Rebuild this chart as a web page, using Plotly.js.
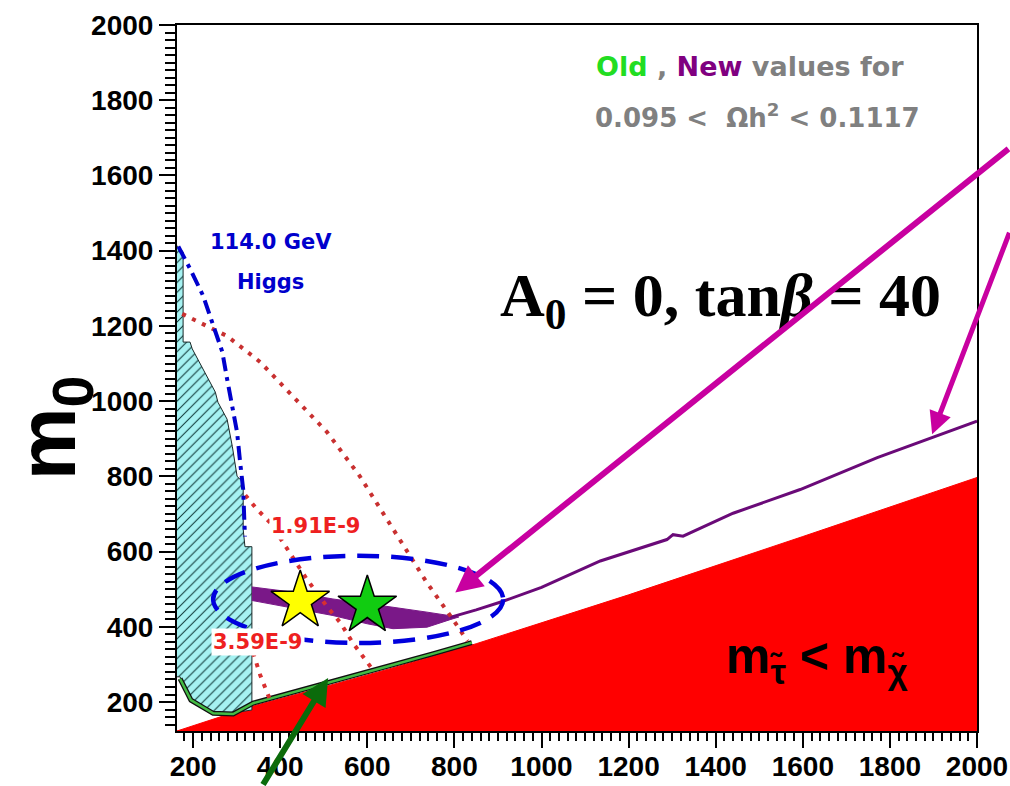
<!DOCTYPE html>
<html>
<head>
<meta charset="utf-8">
<script src="https://cdn.plot.ly/plotly-3.0.1.min.js"></script>
<style>html,body{margin:0;padding:0;background:#fff;}#chart{width:1010px;height:786px;}</style>
</head>
<body>
<div id="chart"></div>
<script>
// ---- data (m1/2, m0) ----
const xTicks = [200,400,600,800,1000,1200,1400,1600,1800,2000];
const yTicks = [200,400,600,800,1000,1200,1400,1600,1800,2000];
const minorStep = 20;

// stau-LSP excluded region (red)
const redX = [163,340,500,650,850,1200,1600,2000,2000,163];
const redY = [123,190,240,288,355,485,640,797,123,123];

// hatched cyan region
const cyanX = [163,177,177,193,198,223,251,257,278,290,301,315,315,319,335,335,292,246,193,170,163];
const cyanY = [1413,1397,1157,1157,1139,1085,1024,997,952,880,800,784,659,613,613,179,171,173,205,267,267];

// new relic-density band (purple)
const bandX = [335,430,521,600,659,737,790,810,790,737,659,600,521,430,335];
const bandY = [506,492,474,462,452,439,430,426,419,399,395,408,430,450,470];
const newLineX = [790,850,912,1000,1135,1288,1302,1325,1440,1594,1771,2000];
const newLineY = [425,445,468,505,575,632,645,641,702,765,850,947];

// old relic-density strip (green)
const oldX = [170,195,246,292,338,450,550,650,750,840];
const oldY = [262,205,170,168,197,232,264,296,328,358];

// g-2 dotted contours
const g2aX = [175,278,354,430,508,583,659,737,797,830];
const g2aY = [1232,1173,1104,1013,917,800,659,517,419,362];
const g2bX = [320,347,377,407,430,462,508,538,567,590,613];
const g2bY = [750,712,677,624,579,525,453,411,357,320,285];
const g2cX = [338,354,372,381];
const g2cY = [331,272,219,197];

// Higgs 114 GeV contour
const higgsX = [166,193,223,246,267,278,290,301,308,315,319];
const higgsY = [1411,1352,1280,1200,1131,1059,987,917,837,765,640];

// benchmark stars
const starX = [446,600];
const starY = [469,456];
const starColors = ['#ffff00','#11cc11'];

const tickFont = {family:'Liberation Sans, Arial, sans-serif', size:28, color:'#000', weight:'bold'};
const sans = 'DejaVu Sans, Liberation Sans, Arial, sans-serif';
const xRange = [163,2000], yRange = [123,2000];
const plotW = 800, plotH = 706;

// minor axis tick positions (axis decoration, every minorStep units)
const minorXs = [], minorYs = [];
for (let v = Math.ceil(xRange[0]/minorStep)*minorStep; v <= xRange[1]; v += minorStep) minorXs.push(v);
for (let v = Math.ceil(yRange[0]/minorStep)*minorStep; v <= yRange[1]; v += minorStep) minorYs.push(v);
const xUnitPerPx = (xRange[1]-xRange[0])/plotW, yUnitPerPx = (yRange[1]-yRange[0])/plotH;

const traces = [
  {x: redX, y: redY, type:'scatter', mode:'lines', fill:'toself', fillcolor:'#ff0000', line:{color:'#ff0000', width:1}, hoverinfo:'skip'},
  {x: cyanX, y: cyanY, type:'scatter', mode:'lines', fill:'toself', fillcolor:'#a6f2f2',
   fillpattern:{shape:'/', bgcolor:'#a6f2f2', fgcolor:'#103838', size:7, solidity:0.15},
   line:{color:'#1a2a2a', width:1}, hoverinfo:'skip'},
  {x: oldX, y: oldY, type:'scatter', mode:'lines', line:{color:'#101010', width:5}, hoverinfo:'skip'},
  {x: oldX, y: oldY, type:'scatter', mode:'lines', line:{color:'#44bb44', width:2.5}, hoverinfo:'skip'},
  {x: bandX, y: bandY, type:'scatter', mode:'lines', fill:'toself', fillcolor:'#7a1888', line:{color:'#7a1888', width:1}, hoverinfo:'skip'},
  {x: newLineX, y: newLineY, type:'scatter', mode:'lines', line:{color:'#6a0a78', width:3}, hoverinfo:'skip'},
  {x: g2aX, y: g2aY, type:'scatter', mode:'lines', line:{color:'#c83030', width:4, dash:'4px,7px'}, hoverinfo:'skip'},
  {x: g2bX, y: g2bY, type:'scatter', mode:'lines', line:{color:'#d83030', width:4, dash:'4px,7px'}, hoverinfo:'skip'},
  {x: g2cX, y: g2cY, type:'scatter', mode:'lines', line:{color:'#d83030', width:4, dash:'4px,7px'}, hoverinfo:'skip'},
  {x: higgsX, y: higgsY, type:'scatter', mode:'lines', line:{color:'#0000cc', width:4, dash:'14px,6px,4px,6px'}, hoverinfo:'skip'},
  {x: starX, y: starY, type:'scatter', mode:'markers', marker:{symbol:'star', size:44, color:starColors, line:{color:'#000', width:1.5}}, hoverinfo:'skip'},
  // minor ticks as unclipped tick-shaped markers just outside the frame
  {x: minorXs, y: minorXs.map(() => yRange[0] - 5*yUnitPerPx), type:'scatter', mode:'markers', cliponaxis:false,
   marker:{symbol:'line-ns', size:9, color:'#000', line:{color:'#000', width:2}}, hoverinfo:'skip'},
  {x: minorYs.map(() => xRange[0] - 6*xUnitPerPx), y: minorYs, type:'scatter', mode:'markers', cliponaxis:false,
   marker:{symbol:'line-ew', size:11, color:'#000', line:{color:'#000', width:2}}, hoverinfo:'skip'}
];

const layout = {
  width:1010, height:786,
  margin:{l:177, r:33, t:25, b:55},
  paper_bgcolor:'#fff', plot_bgcolor:'#fff',
  showlegend:false,
  xaxis:{range:xRange, autorange:false, tickmode:'linear', tick0:xTicks[0], dtick:xTicks[1]-xTicks[0], ticks:'outside', ticklen:15, tickwidth:2, tickcolor:'#000',
         ticklabelstandoff:-6,
         showgrid:false, zeroline:false, showline:true, linecolor:'#000', linewidth:2, mirror:true, tickfont:tickFont,
         minor:{tickmode:'linear', tick0:0, dtick:minorStep, ticks:'outside', ticklen:8, tickwidth:2, tickcolor:'#000', showgrid:false}},
  yaxis:{range:yRange, autorange:false, tickmode:'linear', tick0:yTicks[0], dtick:yTicks[1]-yTicks[0], ticks:'outside', ticklen:16, tickwidth:2, tickcolor:'#000',
         showgrid:false, zeroline:false, showline:true, linecolor:'#000', linewidth:2, mirror:true, tickfont:tickFont,
         minor:{tickmode:'linear', tick0:0, dtick:minorStep, ticks:'outside', ticklen:10, tickwidth:2, tickcolor:'#000', showgrid:false}},
  shapes:[
    {type:'circle', xref:'x', yref:'y', x0:246, x1:912, y0:357, y1:589, layer:'above',
     line:{color:'#0000dd', width:4.5, dash:'22px,12px'}}
  ],
  annotations:[
    {xref:'paper', yref:'paper', x:-0.222, y:0.43, text:'<b>m<sub>0</sub></b>', showarrow:false, textangle:-90,
     font:{family:'Liberation Sans, Arial, sans-serif', size:82, color:'#000'}},
    {x:1479, y:1891, text:'<b><span style="color:#22dd22">Old</span> , <span style="color:#800080">New</span> values for</b>', showarrow:false,
     font:{family:sans, size:27, color:'#808080'}},
    {x:1495, y:1757, text:'<b>0.095 <  Ωh<sup>2</sup> < 0.1117</b>', showarrow:false,
     font:{family:sans, size:26, color:'#808080'}},
    {x:379, y:1424, text:'<b>114.0 GeV</b>', showarrow:false, font:{family:sans, size:21, color:'#0000cc'}},
    {x:377, y:1317, text:'<b>Higgs</b>', showarrow:false, font:{family:sans, size:21, color:'#0000cc'}},
    {x:1410, y:1270, text:'<b>A<sub>0</sub> = 0, tan<i>β</i> = 40</b>', showarrow:false,
     font:{family:'Liberation Serif, Times New Roman, serif', size:62, color:'#000'}},
    {x:482, y:669, text:'<b>1.91E-9</b>', showarrow:false, bgcolor:'#ffffff', borderpad:1,
     font:{family:sans, size:21, color:'#ee2020'}},
    {x:349, y:360, text:'<b>3.59E-9</b>', showarrow:false, bgcolor:'#ffffff', borderpad:1,
     font:{family:sans, size:21, color:'#ee2020'}},
    {x:1633, y:312, text:'<b>m<sub>τ̃</sub> < m<sub>χ̃</sub></b>', showarrow:false,
     font:{family:'Liberation Sans, Arial, sans-serif', size:50, color:'#000'}},
    {x:802, y:491, ax:555, ay:-445, text:'', showarrow:true, arrowhead:2, arrowsize:0.9, arrowwidth:6, arrowcolor:'#c800a0', standoff:0},
    {x:1897, y:912, ax:78, ay:-203, text:'', showarrow:true, arrowhead:2, arrowsize:0.9, arrowwidth:5, arrowcolor:'#c800a0', standoff:0},
    {x:510, y:264, ax:-66, ay:112, text:'', showarrow:true, arrowhead:2, arrowsize:0.9, arrowwidth:6, arrowcolor:'#0b6b0b', standoff:0}
  ]
};

Plotly.newPlot('chart', traces, layout, {staticPlot:true, displayModeBar:false});
</script>
</body>
</html>
